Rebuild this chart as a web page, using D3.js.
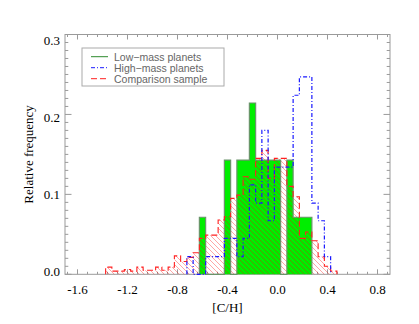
<!DOCTYPE html>
<html>
<head>
<meta charset="utf-8">
<script src="https://cdn.jsdelivr.net/npm/d3@7"></script>
<style>
  body { margin: 0; background: #fff; }
</style>
</head>
<body>
<div id="vis"></div>
<script>
/* data: bin centres of [C/H], bin width 0.05 */
let binCenters = [-1.35, -1.30, -1.25, -1.20, -1.15, -1.10, -1.05, -1.00, -0.95, -0.90,
  -0.85, -0.80, -0.75, -0.70, -0.65, -0.60, -0.55, -0.50, -0.45, -0.40,
  -0.35, -0.30, -0.25, -0.20, -0.15, -0.10, -0.05, 0.00, 0.05, 0.10,
  0.15, 0.20, 0.25, 0.30, 0.35, 0.40, 0.45, 0.50];
let binWidth = 0.05;

let lowMass = [0, 0, 0, 0, 0, 0, 0, 0, 0, 0,
  0, 0, 0, 0, 0, 0.0714, 0, 0, 0, 0.1429,
  0, 0.1429, 0.1429, 0.2143, 0.1429, 0.1429, 0.1429, 0.1429, 0, 0.1429,
  0.0714, 0.0714, 0.0714, 0, 0, 0, 0, 0];

let highMass = [0, 0, 0, 0, 0, 0, 0, 0, 0, 0,
  0, 0, 0, 0.022, 0, 0, 0.022, 0.022, 0.022, 0.045,
  0.045, 0.022, 0.045, 0.112, 0.089, 0.180, 0.067, 0.134, 0.134, 0.134,
  0.224, 0.247, 0.247, 0.089, 0.067, 0.022, 0, 0];

let comparison = [0.009, 0.004, 0.004, 0.006, 0.004, 0.009, 0.005, 0.005, 0.009, 0.005,
  0.009, 0.023, 0.016, 0.021, 0.027, 0.045, 0.049, 0.049, 0.068, 0.072,
  0.095, 0.099, 0.122, 0.119, 0.145, 0.155, 0.120, 0.145, 0.145, 0.110,
  0.097, 0.045, 0.053, 0.042, 0.022, 0.010, 0.004, 0];

let xTicks = [-1.6, -1.2, -0.8, -0.4, 0.0, 0.4, 0.8];
let yTicks = [0.0, 0.1, 0.2, 0.3];
let legendNames = ["Low\u2212mass planets", "High\u2212mass planets", "Comparison sample"];

/* geometry */
let width = 419, height = 324;
let boundsX = [65, 390];
let boundsY = [34.5, 274.3];
let axisColor = "#9a9a9a";
let serif = "'Liberation Serif', 'Times New Roman', serif";

let x = d3.scaleLinear().domain([-1.7, 0.9]).range(boundsX);
let y = d3.scaleLinear().domain([0, 0.3]).range([boundsY[1], boundsY[0]]);
/* y tick labels sit a bit inside the frame in the original */
let yLabel = d3.scaleLinear().domain([0, 0.3]).range([boundsY[1] + 1.5, boundsY[0] + 10]);

let svg = d3.select("#vis").append("svg")
  .attr("width", width)
  .attr("height", height)
  .style("background-color", "#fff");

/* hatch pattern for the comparison sample */
let defs = svg.append("defs");
defs.append("pattern")
  .attr("id", "hatch")
  .attr("patternUnits", "userSpaceOnUse")
  .attr("width", 5).attr("height", 5)
  .append("path")
    .attr("d", "M0,0L5,5M-1,4L1,6M4,-1L6,1")
    .attr("stroke", "#ff0000")
    .attr("stroke-width", 1);

/* step outline of a histogram, trimmed of empty bins at the ends */
function stepPoints (vals) {
  let first = vals.findIndex(v => v > 0);
  let last = vals.length - 1 - [...vals].reverse().findIndex(v => v > 0);
  let hw = binWidth / 2;
  let pts = [[binCenters[first] - hw, 0]];
  for (let i = first; i <= last; i++) {
    pts.push([binCenters[i] - hw, vals[i]]);
    pts.push([binCenters[i] + hw, vals[i]]);
  }
  pts.push([binCenters[last] + hw, 0]);
  return pts;
}
let line = d3.line().x(d => x(d[0])).y(d => y(d[1]));

/* frame */
svg.append("rect")
  .attr("x", boundsX[0]).attr("y", boundsY[0])
  .attr("width", boundsX[1] - boundsX[0])
  .attr("height", boundsY[1] - boundsY[0])
  .attr("fill", "none")
  .attr("stroke", axisColor);

/* ticks on all four sides */
let ctx = d3.path();
let xMinor = d3.range(-1.68, 0.9, 0.08);
xMinor.forEach(v => {
  let major = xTicks.some(t => Math.abs(t - v) < 1e-6);
  let len = major ? 5 : 2.5;
  ctx.moveTo(x(v), boundsY[1]); ctx.lineTo(x(v), boundsY[1] - len);
  ctx.moveTo(x(v), boundsY[0]); ctx.lineTo(x(v), boundsY[0] + len);
});
let yMinor = d3.range(0, 0.3001, 0.01);
yMinor.forEach(v => {
  let major = yTicks.some(t => Math.abs(t - v) < 1e-6);
  let len = major ? 6.5 : 3.3;
  ctx.moveTo(boundsX[0], y(v)); ctx.lineTo(boundsX[0] + len, y(v));
  ctx.moveTo(boundsX[1], y(v)); ctx.lineTo(boundsX[1] - len, y(v));
});
svg.append("path")
  .attr("d", ctx.toString())
  .attr("stroke", axisColor)
  .attr("fill", "none");

/* tick labels */
svg.append("g").selectAll("text")
  .data(xTicks).enter().append("text")
    .attr("x", d => x(d))
    .attr("y", boundsY[1] + 20)
    .attr("text-anchor", "middle")
    .attr("font-family", serif)
    .attr("font-size", 13)
    .text(d => d3.format(".1f")(d).replace("\u2212", "-"));
svg.append("g").selectAll("text")
  .data(yTicks).enter().append("text")
    .attr("x", boundsX[0] - 5)
    .attr("y", d => yLabel(d))
    .attr("text-anchor", "end")
    .attr("font-family", serif)
    .attr("font-size", 13)
    .text(d => d3.format(".1f")(d));

/* axis titles */
svg.append("text")
  .attr("x", (boundsX[0] + boundsX[1]) / 2)
  .attr("y", 312)
  .attr("text-anchor", "middle")
  .attr("font-family", serif)
  .attr("font-size", 13)
  .text("[C/H]");
svg.append("text")
  .attr("transform", "translate(33," + (boundsY[0] + boundsY[1]) / 2 + ") rotate(-90)")
  .attr("text-anchor", "middle")
  .attr("font-family", serif)
  .attr("font-size", 13)
  .text("Relative frequency");

/* histograms */
let g = svg.append("g");
g.append("path")
  .attr("d", line(stepPoints(lowMass)))
  .attr("fill", "#00ee00")
  .attr("stroke", "none");
g.append("path")
  .attr("d", line(stepPoints(comparison)))
  .attr("fill", "url(#hatch)")
  .attr("opacity", 0.35);
g.append("path")
  .attr("d", line(stepPoints(lowMass)))
  .attr("fill", "none")
  .attr("stroke", "#6a946a")
  .attr("stroke-width", 1.2);
g.append("path")
  .attr("d", line(stepPoints(comparison)))
  .attr("fill", "none")
  .attr("stroke", "#ff2020")
  .attr("stroke-width", 1.1)
  .attr("stroke-dasharray", "6,3");
g.append("path")
  .attr("d", line(stepPoints(highMass)))
  .attr("fill", "none")
  .attr("stroke", "#1a1aff")
  .attr("stroke-width", 1.2)
  .attr("stroke-dasharray", "4,2,1,2");

/* legend */
let legendStyles = [
  { stroke: "#2e8b2e", dash: null },
  { stroke: "#1a1aff", dash: "4,2,1,2" },
  { stroke: "#ff2020", dash: "6,3" },
];
let leg = svg.append("g");
leg.append("rect")
  .attr("x", 82).attr("y", 48)
  .attr("width", 142).attr("height", 38)
  .attr("fill", "#fff")
  .attr("stroke", "#aaa");
legendNames.forEach((name, i) => {
  let ly = 56.7 + i * 11;
  leg.append("line")
    .attr("x1", 91).attr("x2", 108)
    .attr("y1", ly).attr("y2", ly)
    .attr("stroke", legendStyles[i].stroke)
    .attr("stroke-width", 1)
    .attr("stroke-dasharray", legendStyles[i].dash);
  leg.append("text")
    .attr("x", 114)
    .attr("y", ly + 4)
    .attr("font-family", "'Liberation Sans', sans-serif")
    .attr("font-size", 10.5)
    .attr("fill", "#666")
    .text(name);
});
</script>
</body>
</html>
